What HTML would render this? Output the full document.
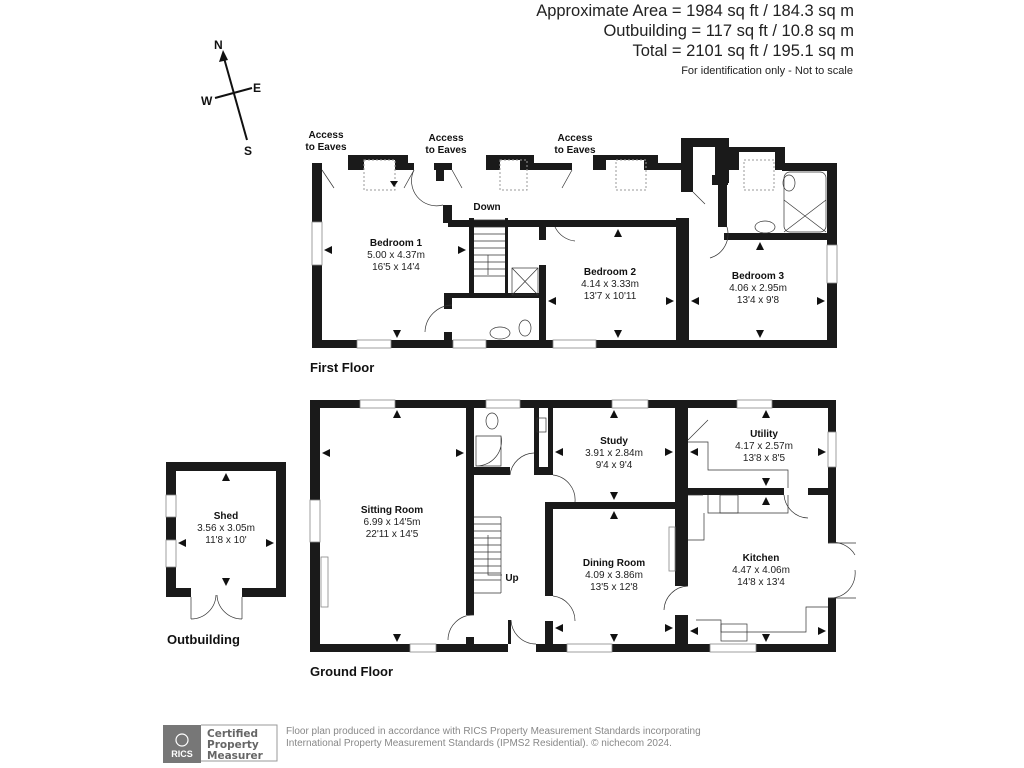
<!DOCTYPE html>
<html><head><meta charset="utf-8"><style>
html,body{margin:0;padding:0;background:#fff;}
svg{display:block;font-family:"Liberation Sans",Arial,sans-serif;}
.t{font-weight:bold;font-size:10px;fill:#111;}
.d{font-size:10px;fill:#222;}
</style></head><body>
<svg width="1024" height="768" viewBox="0 0 1024 768" xmlns="http://www.w3.org/2000/svg">
<rect width="1024" height="768" fill="#fff"/>
<!-- header -->
<g font-size="16.5" fill="#222" text-anchor="end">
<text x="854" y="16">Approximate Area = 1984 sq ft / 184.3 sq m</text>
<text x="854" y="36">Outbuilding = 117 sq ft / 10.8 sq m</text>
<text x="854" y="56">Total = 2101 sq ft / 195.1 sq m</text>
<text x="853" y="74" font-size="11">For identification only - Not to scale</text>
</g>
<!-- compass -->
<g stroke="#111" stroke-width="2" fill="#111">
<line x1="224" y1="58" x2="247" y2="140"/>
<line x1="215" y1="98" x2="252" y2="88"/>
<polygon points="223,50 219,62 228,60" stroke="none"/>
</g>
<g font-size="12" font-weight="bold" fill="#111">
<text x="214" y="49">N</text><text x="253" y="92">E</text><text x="201" y="105">W</text><text x="244" y="155">S</text>
</g>

<!-- FIRST FLOOR -->
<g fill="#1a1a1a">
<rect x="312" y="163" width="10" height="185"/>
<rect x="312" y="340" width="525" height="8"/>
<rect x="827" y="163" width="10" height="185"/>
<!-- top wall segments -->
<rect x="312" y="163" width="10" height="7"/>
<rect x="348" y="155" width="16" height="15"/><rect x="364" y="155" width="31" height="5"/><rect x="395" y="155" width="13" height="15"/>
<rect x="408" y="163" width="6" height="7"/>
<rect x="434" y="163" width="18" height="7"/><rect x="436" y="163" width="8" height="18"/>
<rect x="486" y="155" width="14" height="15"/><rect x="500" y="155" width="20" height="5"/><rect x="520" y="155" width="14" height="15"/>
<rect x="534" y="163" width="38" height="7"/>
<rect x="593" y="155" width="13" height="15"/><rect x="606" y="155" width="38" height="5"/><rect x="644" y="155" width="14" height="15"/>
<rect x="658" y="163" width="23" height="7"/>
<rect x="681" y="138" width="12" height="54"/><rect x="681" y="138" width="48" height="9"/><rect x="715" y="138" width="14" height="45"/><rect x="712" y="175" width="16" height="10"/>
<rect x="729" y="147" width="10" height="23"/><rect x="737" y="147" width="45" height="5"/><rect x="775" y="147" width="10" height="23"/>
<rect x="782" y="163" width="55" height="8"/>
<!-- bathroom -->
<rect x="718" y="185" width="9" height="42"/>
<rect x="724" y="233" width="113" height="7"/>
<!-- bedroom 2/3 wall -->
<rect x="676" y="218" width="13" height="122"/>
<rect x="555" y="220" width="134" height="7"/>
<rect x="448" y="220" width="107" height="7" /><rect x="540" y="220" width="0" height="0"/>
<rect x="443" y="205" width="9" height="18"/>
<!-- stairs walls -->
<rect x="469" y="218" width="5" height="75"/>
<rect x="505" y="218" width="3" height="75"/>
<rect x="539" y="223" width="7" height="17"/>
<rect x="539" y="265" width="7" height="75"/>
<rect x="448" y="293" width="98" height="5"/>
<rect x="444" y="293" width="8" height="16"/>
<rect x="444" y="332" width="8" height="10"/>
</g>
<!-- windows first floor -->
<g fill="#fff" stroke="#888" stroke-width="0.8">
<rect x="357" y="340" width="34" height="8"/><rect x="453" y="340" width="33" height="8"/><rect x="553" y="340" width="43" height="8"/>
<rect x="312" y="222" width="10" height="43"/><rect x="827" y="245" width="10" height="38"/>
</g>
<!-- dormer windows dashed -->
<g fill="none" stroke="#999" stroke-dasharray="2,2" stroke-width="1">
<rect x="364" y="160" width="31" height="30"/><rect x="500" y="160" width="27" height="30"/><rect x="616" y="160" width="30" height="30"/><rect x="744" y="160" width="30" height="30"/>
</g>
<!-- stairs -->
<g stroke="#333" stroke-width="0.7" fill="none">
<path d="M474,220 h31 M474,227 h31 M474,234 h31 M474,241 h31 M474,248 h31 M474,255 h31 M474,262 h31 M474,269 h31 M474,276 h31"/>
<line x1="488" y1="255" x2="488" y2="275"/>
<rect x="512" y="268" width="26" height="27"/><line x1="512" y1="268" x2="538" y2="295"/><line x1="538" y1="268" x2="512" y2="295"/>
<rect x="767" y="180" width="0" height="0"/>
<rect x="784" y="172" width="42" height="60" rx="6"/><line x1="784" y1="200" x2="826" y2="232"/><line x1="826" y1="200" x2="784" y2="232"/>
<ellipse cx="789" cy="183" rx="6" ry="8"/><ellipse cx="765" cy="227" rx="10" ry="6"/>
<ellipse cx="500" cy="333" rx="10" ry="6"/><ellipse cx="525" cy="328" rx="6" ry="8"/>
<!-- door arcs -->
<path d="M322,170 l12,18 M414,170 l-10,18 M452,170 l10,18 M572,170 l-10,18 M693,192 l12,12"/>
<path d="M414,170 A25,25 0 0 0 443,205 M452,305 A28,28 0 0 0 425,332 M555,227 A25,25 0 0 0 575,241 M727,227 A25,25 0 0 1 710,258"/>
</g>
<g class="arr" fill="#111">
<polygon points="394,187 390,181 398,181"/>
</g>
<text class="t" x="396" y="246" text-anchor="middle">Bedroom 1</text>
<text class="d" x="396" y="258" text-anchor="middle">5.00 x 4.37m</text>
<text class="d" x="396" y="270" text-anchor="middle">16'5 x 14'4</text>
<text class="t" x="610" y="275" text-anchor="middle">Bedroom 2</text>
<text class="d" x="610" y="287" text-anchor="middle">4.14 x 3.33m</text>
<text class="d" x="610" y="299" text-anchor="middle">13'7 x 10'11</text>
<text class="t" x="758" y="279" text-anchor="middle">Bedroom 3</text>
<text class="d" x="758" y="291" text-anchor="middle">4.06 x 2.95m</text>
<text class="d" x="758" y="303" text-anchor="middle">13'4 x 9'8</text>
<text class="t" x="487" y="210" text-anchor="middle" font-size="9">Down</text>
<g class="t" font-size="9.5" text-anchor="middle">
<text x="326" y="138">Access</text><text x="326" y="150">to Eaves</text>
<text x="446" y="141">Access</text><text x="446" y="153">to Eaves</text>
<text x="575" y="141">Access</text><text x="575" y="153">to Eaves</text>
</g>
<text x="310" y="372" font-weight="bold" font-size="13" fill="#111">First Floor</text>

<!-- GROUND FLOOR -->
<g fill="#1a1a1a">
<rect x="310" y="400" width="526" height="8"/>
<rect x="310" y="400" width="10" height="252"/>
<rect x="310" y="644" width="198" height="8"/><rect x="536" y="644" width="300" height="8"/>
<rect x="828" y="400" width="8" height="143"/><rect x="828" y="598" width="8" height="54"/>
<rect x="466" y="408" width="8" height="207"/><rect x="466" y="637" width="8" height="8"/>
<rect x="474" y="467" width="36" height="8"/>
<rect x="534" y="408" width="5" height="67"/><rect x="534" y="467" width="19" height="8"/>
<rect x="548" y="408" width="5" height="67"/>
<rect x="545" y="502" width="8" height="94"/><rect x="545" y="621" width="8" height="23"/>
<rect x="548" y="502" width="127" height="7"/>
<rect x="675" y="408" width="13" height="178"/><rect x="675" y="615" width="13" height="30"/>
<rect x="688" y="488" width="96" height="7"/><rect x="808" y="488" width="21" height="7"/>
<rect x="508" y="620" width="3" height="24"/>
</g>
<g fill="#fff" stroke="#888" stroke-width="0.8">
<rect x="360" y="400" width="35" height="8"/><rect x="486" y="400" width="34" height="8"/><rect x="612" y="400" width="36" height="8"/><rect x="737" y="400" width="35" height="8"/>
<rect x="410" y="644" width="26" height="8"/><rect x="567" y="644" width="45" height="8"/><rect x="710" y="644" width="46" height="8"/>
<rect x="310" y="500" width="10" height="42"/><rect x="828" y="432" width="8" height="35"/>
<rect x="321" y="557" width="7" height="50"/><rect x="669" y="527" width="6" height="44"/>
</g>
<g stroke="#333" stroke-width="0.7" fill="none">
<path d="M474,517 h27 M474,524 h27 M474,531 h27 M474,538 h27 M474,545 h27 M474,552 h27 M474,559 h27 M474,566 h27 M474,573 h27 M474,580 h27"/>
<path d="M501,517 v76 M474,593 h27"/>
<path d="M488,535 v40 h14"/>
<path d="M476,436 h25 v30 h-25 z M501,436 A25,25 0 0 1 476,466"/>
<ellipse cx="492" cy="421" rx="6" ry="8"/><rect x="537" y="418" width="9" height="14"/>
<path d="M688,442 h20 v28 h80 v18 M688,495 h15 M708,495 v18 h80 v-18"/>
<path d="M688,540 h16 v-27 M696,620 h25 v12 h85 v-25 h22"/>
<rect x="720" y="495" width="18" height="18"/><rect x="721" y="624" width="26" height="17"/>
<path d="M474,615 A25,25 0 0 0 448,640 M536,644 A25,25 0 0 1 511,620 M553,596 A25,25 0 0 1 575,621 M553,475 A25,25 0 0 1 575,502 M510,475 A25,25 0 0 1 534,453"/>
<path d="M688,586 A25,25 0 0 0 664,610 M784,495 A25,25 0 0 0 808,518 M828,543 A25,25 0 0 1 855,555 M828,598 A25,25 0 0 0 855,570 M688,440 l20,-20"/>
<path d="M828,543 h28 M828,598 h28"/>
</g>
<text class="t" x="392" y="513" text-anchor="middle">Sitting Room</text>
<text class="d" x="392" y="525" text-anchor="middle">6.99 x 14'5m</text>
<text class="d" x="392" y="537" text-anchor="middle">22'11 x 14'5</text>
<text class="t" x="614" y="444" text-anchor="middle">Study</text>
<text class="d" x="614" y="456" text-anchor="middle">3.91 x 2.84m</text>
<text class="d" x="614" y="468" text-anchor="middle">9'4 x 9'4</text>
<text class="t" x="764" y="437" text-anchor="middle">Utility</text>
<text class="d" x="764" y="449" text-anchor="middle">4.17 x 2.57m</text>
<text class="d" x="764" y="461" text-anchor="middle">13'8 x 8'5</text>
<text class="t" x="614" y="566" text-anchor="middle">Dining Room</text>
<text class="d" x="614" y="578" text-anchor="middle">4.09 x 3.86m</text>
<text class="d" x="614" y="590" text-anchor="middle">13'5 x 12'8</text>
<text class="t" x="761" y="561" text-anchor="middle">Kitchen</text>
<text class="d" x="761" y="573" text-anchor="middle">4.47 x 4.06m</text>
<text class="d" x="761" y="585" text-anchor="middle">14'8 x 13'4</text>
<text class="t" x="512" y="581" text-anchor="middle" font-size="9">Up</text>
<text x="310" y="676" font-weight="bold" font-size="13" fill="#111">Ground Floor</text>

<!-- Shed -->
<g fill="#1a1a1a">
<rect x="166" y="462" width="120" height="9"/>
<rect x="166" y="462" width="10" height="135"/>
<rect x="276" y="462" width="10" height="135"/>
<rect x="166" y="588" width="25" height="9"/><rect x="242" y="588" width="44" height="9"/>
</g>
<g fill="#fff" stroke="#888" stroke-width="0.8"><rect x="166" y="495" width="10" height="22"/><rect x="166" y="540" width="10" height="27"/></g>
<path d="M191,597 v22 M242,597 v22 M191,619 A25,25 0 0 0 216,595 M242,619 A25,25 0 0 1 217,595" stroke="#333" stroke-width="0.7" fill="none"/>
<text class="t" x="226" y="519" text-anchor="middle">Shed</text>
<text class="d" x="226" y="531" text-anchor="middle">3.56 x 3.05m</text>
<text class="d" x="226" y="543" text-anchor="middle">11'8 x 10'</text>
<text x="167" y="644" font-weight="bold" font-size="13" fill="#111">Outbuilding</text>

<!-- arrows (room dimension markers) -->
<g fill="#111">
<polygon points="397,410 393,418 401,418"/><polygon points="397,642 393,634 401,634"/><polygon points="322,453 330,449 330,457"/><polygon points="464,453 456,449 456,457"/>
<polygon points="614,410 610,418 618,418"/><polygon points="614,500 610,492 618,492"/><polygon points="555,452 563,448 563,456"/><polygon points="673,452 665,448 665,456"/>
<polygon points="614,511 610,519 618,519"/><polygon points="614,642 610,634 618,634"/><polygon points="555,628 563,624 563,632"/><polygon points="673,628 665,624 665,632"/>
<polygon points="766,410 762,418 770,418"/><polygon points="766,486 762,478 770,478"/><polygon points="690,452 698,448 698,456"/><polygon points="826,452 818,448 818,456"/>
<polygon points="766,497 762,505 770,505"/><polygon points="766,642 762,634 770,634"/><polygon points="690,631 698,627 698,635"/><polygon points="826,631 818,627 818,635"/>
<polygon points="226,473 222,481 230,481"/><polygon points="226,586 222,578 230,578"/><polygon points="178,543 186,539 186,547"/><polygon points="274,543 266,539 266,547"/>
<polygon points="324,250 332,246 332,254"/><polygon points="466,250 458,246 458,254"/><polygon points="397,338 393,330 401,330"/>
<polygon points="618,229 614,237 622,237"/><polygon points="618,338 614,330 622,330"/><polygon points="548,301 556,297 556,305"/><polygon points="674,301 666,297 666,305"/>
<polygon points="760,242 756,250 764,250"/><polygon points="760,338 756,330 764,330"/><polygon points="691,301 699,297 699,305"/><polygon points="825,301 817,297 817,305"/>
</g>

<!-- footer -->
<rect x="163" y="725" width="38" height="38" fill="#777"/>
<text x="182" y="757" font-size="9" font-weight="bold" fill="#fff" text-anchor="middle">RICS</text>
<circle cx="182" cy="740" r="6" fill="none" stroke="#fff" stroke-width="1.2"/>
<path d="M201,725 h76 v36 h-76" fill="none" stroke="#999" stroke-width="1"/>
<g font-size="10.5" font-weight="bold" fill="#666" font-family="'DejaVu Sans',sans-serif">
<text x="207" y="737">Certified</text><text x="207" y="748">Property</text><text x="207" y="759">Measurer</text>
</g>
<g font-size="10" fill="#888">
<text x="286" y="734">Floor plan produced in accordance with RICS Property Measurement Standards incorporating</text>
<text x="286" y="746">International Property Measurement Standards (IPMS2 Residential).  © nichecom 2024.</text>
</g>
</svg>
</body></html>
